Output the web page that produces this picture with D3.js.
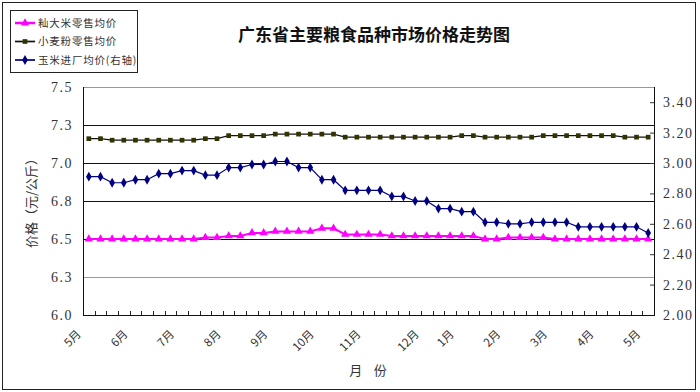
<!DOCTYPE html>
<html><head><meta charset="utf-8">
<script src="https://cdn.jsdelivr.net/npm/d3@7"></script>
<style>
body{margin:0;background:#fff;}
svg{display:block;}
</style></head>
<body>
<svg id="c" width="700" height="392"></svg>
<script>
// ---- data ----
const monthLabels = ["5月","6月","7月","8月","9月","10月","11月","12月","1月","2月","3月","4月","5月"];
const monthIndex  = [0,4,8,12,16,20,24,29,32,36,40,44,48];
const rice  = [6.50,6.50,6.50,6.50,6.50,6.50,6.50,6.50,6.50,6.50,
               6.51,6.51,6.52,6.52,6.54,6.54,6.55,6.55,6.55,6.55,
               6.57,6.57,6.53,6.53,6.53,6.53,6.52,6.52,6.52,6.52,
               6.52,6.52,6.52,6.52,6.50,6.50,6.51,6.51,6.51,6.51,
               6.50,6.50,6.50,6.50,6.50,6.50,6.50,6.50,6.50];
const wheat = [7.16,7.16,7.15,7.15,7.15,7.15,7.15,7.15,7.15,7.15,
               7.16,7.16,7.18,7.18,7.18,7.18,7.19,7.19,7.19,7.19,
               7.19,7.19,7.17,7.17,7.17,7.17,7.17,7.17,7.17,7.17,
               7.17,7.17,7.18,7.18,7.17,7.17,7.17,7.17,7.17,7.18,
               7.18,7.18,7.18,7.18,7.18,7.18,7.17,7.17,7.17];
const corn  = [2.91,2.91,2.87,2.87,2.89,2.89,2.93,2.93,2.95,2.95,
               2.92,2.92,2.97,2.97,2.99,2.99,3.01,3.01,2.97,2.97,
               2.89,2.89,2.82,2.82,2.82,2.82,2.78,2.78,2.75,2.75,
               2.70,2.70,2.68,2.68,2.61,2.61,2.60,2.60,2.61,2.61,
               2.61,2.61,2.58,2.58,2.58,2.58,2.58,2.58,2.54];
const leftTicks  = [6.0,6.25,6.5,6.75,7.0,7.25,7.5];
const leftLabels = ["6.0","6.3","6.5","6.8","7.0","7.3","7.5"];
const rightTicks = [2.0,2.2,2.4,2.6,2.8,3.0,3.2,3.4];
const rightLabels= ["2.00","2.20","2.40","2.60","2.80","3.00","3.20","3.40"];
const seriesNames = ["籼大米零售均价","小麦粉零售均价","玉米进厂均价(右轴)"];
const title = "广东省主要粮食品种市场价格走势图";

// ---- layout ----
const L = 83, R = 654, T = 87, B = 315;
const svg = d3.select("#c");
const cjk = "'Noto Sans CJK SC', sans-serif";
const num = "'Liberation Serif', serif";

const idx = d3.range(rice.length);
const x = d3.scaleBand().domain(idx).range([L, R]).padding(0);
const cx = i => x(i) + x.bandwidth()/2;
const yL = d3.scaleLinear().domain([6.0, 7.5]).range([B, T]);
const yR = d3.scaleLinear().domain([2.0, 3.5]).range([B, T]);

// outer border
svg.append("rect").attr("x",2.5).attr("y",2.5).attr("width",693).attr("height",387)
  .attr("fill","none").attr("stroke","#222").attr("stroke-width",1);

// gridlines
svg.append("g").selectAll("line").data(leftTicks.slice(1)).join("line")
  .attr("x1",L).attr("x2",R)
  .attr("y1",d=>Math.round(yL(d))+0.5).attr("y2",d=>Math.round(yL(d))+0.5)
  .attr("stroke",d=> (d===7.5||d===6.25) ? "#999" : "#111").attr("stroke-width",1);

// left axis
const axL = d3.axisLeft(yL).tickValues(leftTicks).tickSize(0).tickPadding(10)
  .tickFormat((d,i)=>leftLabels[i]);
const gL = svg.append("g").attr("transform",`translate(${L},0)`).call(axL);
gL.select(".domain").remove();
gL.selectAll("text").attr("font-family",num).attr("font-size",14).attr("fill","#333")
  .attr("letter-spacing","1.5px");
svg.append("line").attr("x1",L+0.5).attr("x2",L+0.5).attr("y1",T).attr("y2",B+0.5)
  .attr("stroke","#111");

// right axis
const axR = d3.axisRight(yR).tickValues(rightTicks).tickSize(-4).tickPadding(9)
  .tickFormat((d,i)=>rightLabels[i]);
const gR = svg.append("g").attr("transform",`translate(${R},0)`).call(axR);
gR.select(".domain").remove();
gR.selectAll("line").attr("stroke","#333");
gR.selectAll("text").attr("font-family",num).attr("font-size",14).attr("fill","#333")
  .attr("letter-spacing","1.5px");
svg.append("line").attr("x1",R+0.5).attr("x2",R+0.5).attr("y1",T).attr("y2",B+0.5)
  .attr("stroke","#111");

// bottom axis: category boundary ticks pointing up
const bounds = idx.slice(1).map(i => x(i));
svg.append("g").selectAll("line").data(bounds).join("line")
  .attr("x1",d=>Math.round(d)+0.5).attr("x2",d=>Math.round(d)+0.5)
  .attr("y1",B).attr("y2",B-4).attr("stroke","#222");
svg.append("line").attr("x1",L).attr("x2",R+1).attr("y1",B+0.5).attr("y2",B+0.5)
  .attr("stroke","#111");

// month labels (rotated)
svg.append("g").selectAll("text").data(monthLabels).join("text")
  .attr("transform",(d,i)=>`translate(${cx(monthIndex[i])-10},${332}) rotate(-45)`)
  .attr("text-anchor","end").attr("dy","0.35em")
  .attr("font-family",cjk).attr("font-size",11.5).attr("fill","#333")
  .text(d=>d);

// axis titles
svg.append("text").attr("transform","translate(31,200) rotate(-90)")
  .attr("text-anchor","middle").attr("dy","0.35em")
  .attr("font-family",cjk).attr("font-size",13).attr("fill","#333")
  .text("价格（元/公斤）");
svg.append("text").attr("x",368).attr("y",375).attr("text-anchor","middle")
  .attr("font-family",cjk).attr("font-size",13).attr("fill","#333")
  .attr("xml:space","preserve").text("月    份");

// title
svg.append("text").attr("x",374).attr("y",41).attr("text-anchor","middle")
  .attr("font-family",cjk).attr("font-size",17).attr("font-weight","bold").attr("fill","#111")
  .text(title);

// series
const styles = [
  {data:rice,  y:yL, line:"#FF00FF", lw:2,   mfill:"#FF00FF", sym:d3.symbolTriangle, size:30},
  {data:wheat, y:yL, line:"#111",    lw:1.2, mfill:"#333300", sym:d3.symbolSquare,   size:22},
  {data:corn,  y:yR, line:"#000080", lw:1.2, mfill:"#000080", sym:d3.symbolDiamond,  size:28}
];
styles.forEach(s=>{
  const line = d3.line().x((d,i)=>cx(i)).y(d=>s.y(d));
  svg.append("path").datum(s.data).attr("d",line)
    .attr("fill","none").attr("stroke",s.line).attr("stroke-width",s.lw);
  svg.append("g").selectAll("path").data(s.data).join("path")
    .attr("transform",(d,i)=>`translate(${cx(i)},${s.y(d)})`)
    .attr("d",d3.symbol().type(s.sym).size(s.size))
    .attr("fill",s.mfill);
});

// legend
const lg = svg.append("g");
lg.append("rect").attr("x",10.5).attr("y",10.5).attr("width",127).attr("height",62)
  .attr("fill","#fff").attr("stroke","#222");
styles.forEach((s,i)=>{
  const yy = 23 + i*18.5;
  lg.append("line").attr("x1",15).attr("x2",35).attr("y1",yy).attr("y2",yy)
    .attr("stroke",s.line).attr("stroke-width",s.lw+0.5);
  lg.append("path").attr("transform",`translate(25,${yy})`)
    .attr("d",d3.symbol().type(s.sym).size(s.size)).attr("fill",s.mfill);
  lg.append("text").attr("x",38).attr("y",yy).attr("dy","0.35em")
    .attr("font-family",cjk).attr("font-size",10.5).attr("fill","#333")
    .attr("letter-spacing","0.8px").text(seriesNames[i]);
});
</script>
</body></html>
